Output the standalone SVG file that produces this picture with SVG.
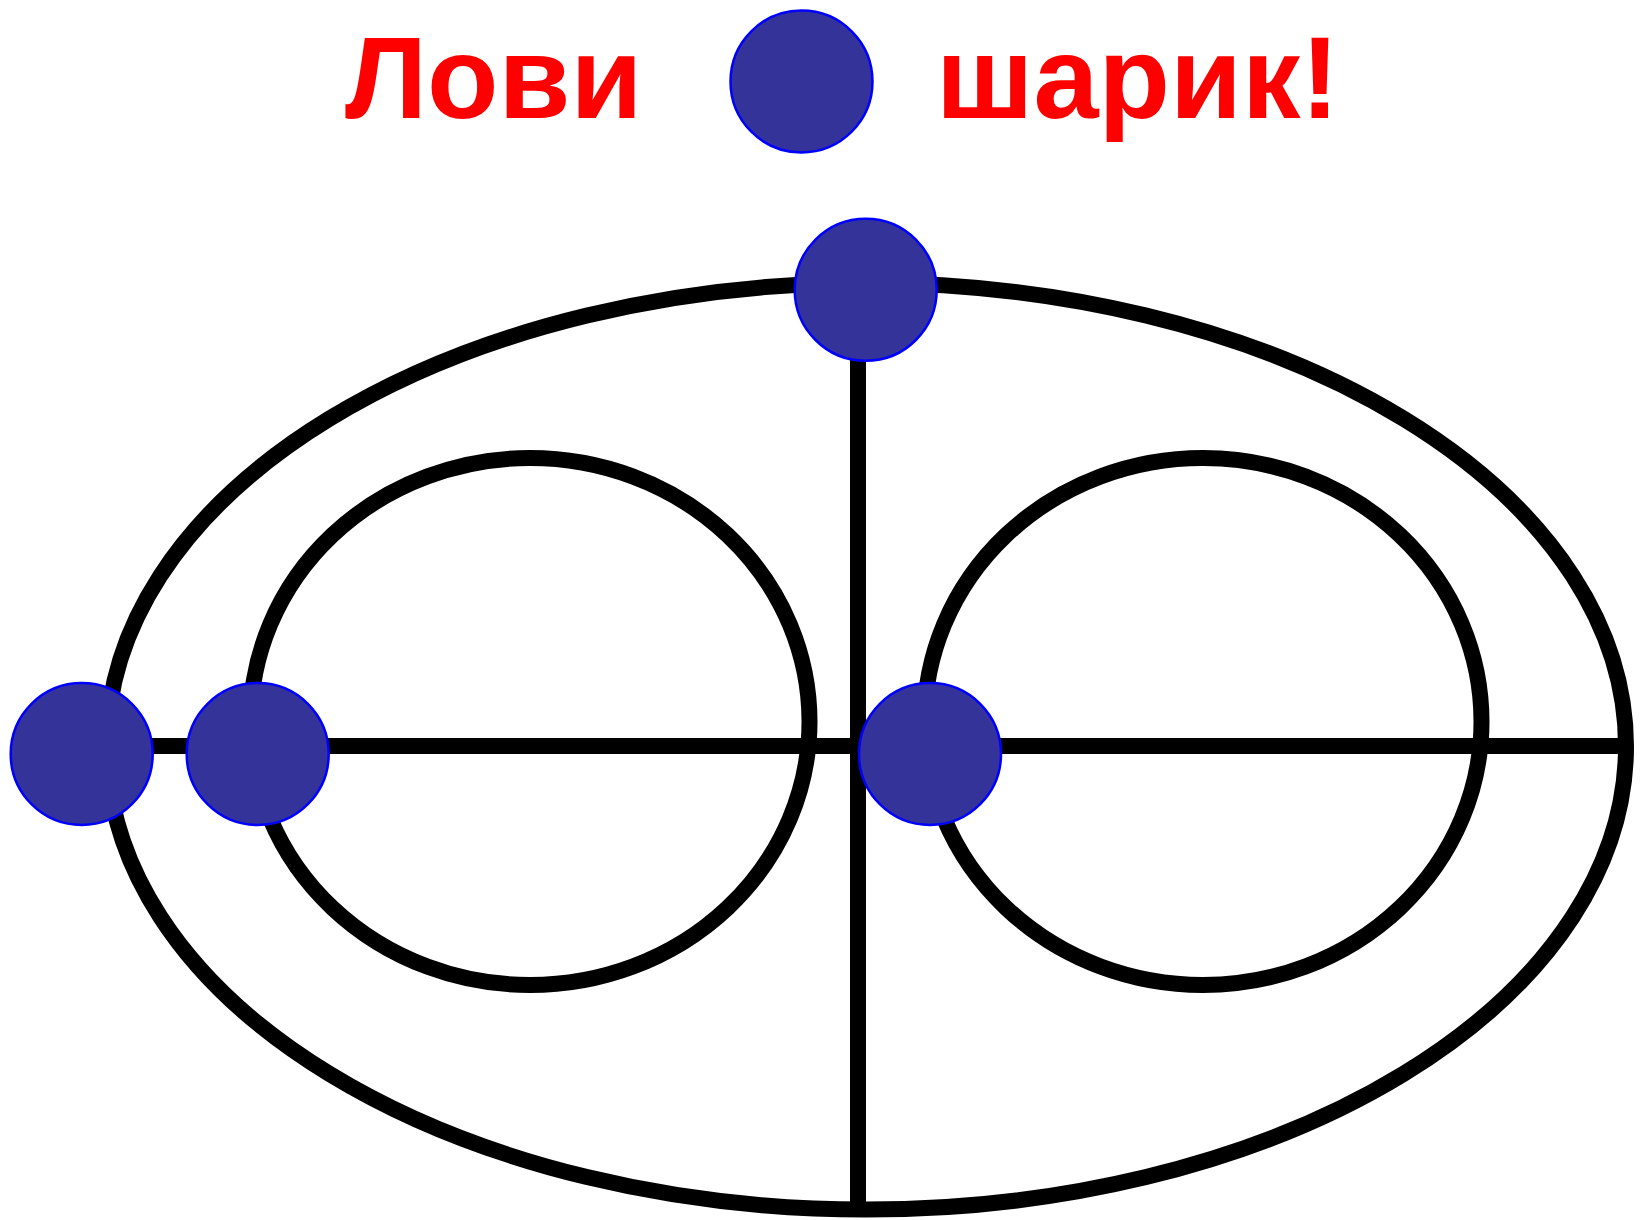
<svg xmlns="http://www.w3.org/2000/svg" width="1644" height="1220" viewBox="0 0 1644 1220">
<style>
.ring{fill:none;stroke:#000;stroke-width:16}
.ln{stroke:#000;stroke-width:16;fill:none}
.ball{fill:#333399;stroke:#0000FF;stroke-width:2.5}
.title{font-family:"Liberation Sans",Arial,sans-serif;font-weight:bold;font-size:117px;fill:#FF0000}
</style>
<rect width="1644" height="1220" fill="#fff"/>
<g id="title">
<text class="title" x="345" y="118">Лови</text>
<text class="title" x="936" y="118">шарик!</text>
</g>
<g id="title-ball"><circle class="ball" cx="801.5" cy="81.5" r="71"/></g>
<g id="outer-ellipse"><ellipse class="ring" cx="866.5" cy="746.3" rx="759.5" ry="463.3"/></g>
<g id="inner-left"><ellipse class="ring" cx="530" cy="721.5" rx="279.5" ry="263.5"/></g>
<g id="inner-right"><ellipse class="ring" cx="1203" cy="721.5" rx="278.5" ry="263.5"/></g>
<g id="connectors">
<line class="ln" x1="107" y1="746" x2="1626" y2="746"/>
<line class="ln" x1="858" y1="283" x2="858" y2="1209"/>
</g>
<g id="ball-top"><circle class="ball" cx="865.7" cy="289.8" r="71"/></g>
<g id="ball-left1"><circle class="ball" cx="81.7" cy="754" r="71"/></g>
<g id="ball-left2"><circle class="ball" cx="257.7" cy="754" r="71"/></g>
<g id="ball-center"><circle class="ball" cx="930" cy="754" r="71"/></g>
</svg>
